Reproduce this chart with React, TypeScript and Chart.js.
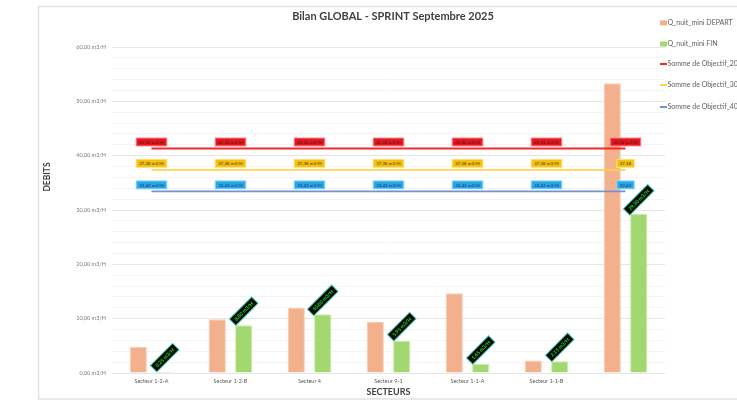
import React, { useEffect, useRef } from "react";
import { Chart, registerables } from "chart.js";

Chart.register(...registerables);

const categories = ["Secteur 1-2-A", "Secteur 1-2-B", "Secteur 4", "Secteur 9-1", "Secteur 1-1-A", "Secteur 1-1-B", ""];
const departValues = [4.85, 9.9, 12.0, 9.4, 14.7, 2.3, 53.35];
const finValues = [0.25, 8.8, 10.8, 5.95, 1.65, 2.15, 29.3];
const objectif20 = [41.32, 41.32, 41.32, 41.32, 41.32, 41.32, 41.32];
const objectif30 = [37.38, 37.38, 37.38, 37.38, 37.38, 37.38, 37.38];
const objectif40 = [33.43, 33.43, 33.43, 33.43, 33.43, 33.43, 33.43];
const seriesNames = ["Q_nuit_mini DEPART", "Q_nuit_mini FIN", "Somme de Objectif_20%", "Somme de Objectif_30%", "Somme de Objectif_40%"];
const titleText = "Bilan GLOBAL - SPRINT Septembre 2025";
const yTitle = "DEBITS";
const xTitle = "SECTEURS";

const ORANGE = "#f3b08c";
const GREEN = "#a3d870";
const RED = "#f42a2a";
const YELLOW = "#ffd04a";
const BLUE = "#7592d0";
const FONT = "Lato, 'Liberation Sans', sans-serif";

const fmt = (v: number) => v.toFixed(2).replace(".", ",") + " m3/H";

const decorPlugin = {
  id: "decor",
  beforeDraw(chart: any) {
    const ctx = chart.ctx;
    ctx.save();
    ctx.fillStyle = "#ffffff";
    ctx.fillRect(0, 0, chart.width, chart.height);
    ctx.strokeStyle = "#e2e2e2";
    ctx.lineWidth = 1.5;
    ctx.strokeRect(38.5, 6.5, chart.width + 10, chart.height - 7.5);
    ctx.restore();
  },
  afterDraw(chart: any) {
    const ctx = chart.ctx;
    const area = chart.chartArea;
    ctx.save();
    // title
    ctx.fillStyle = "#404040";
    ctx.font = `bold 11px ${FONT}`;
    ctx.textAlign = "center";
    ctx.textBaseline = "middle";
    ctx.fillText(titleText, 393, 16);
    // axis titles
    ctx.font = `bold 9px ${FONT}`;
    ctx.fillText(xTitle, (area.left + area.right) / 2, 392);
    ctx.save();
    ctx.translate(47, 177);
    ctx.rotate(-Math.PI / 2);
    ctx.font = `bold 8.5px ${FONT}`;
    ctx.fillText(yTitle, 0, 0);
    ctx.restore();
    // legend
    const colors = [ORANGE, GREEN, RED, YELLOW, BLUE];
    const ys = [23, 44, 64, 85, 107];
    ctx.font = `7px ${FONT}`;
    ctx.textAlign = "left";
    seriesNames.forEach((name, i) => {
      const y = ys[i];
      ctx.fillStyle = colors[i];
      if (i < 2) {
        ctx.fillRect(660, y - 2.5, 7, 5);
      } else {
        ctx.fillRect(660, y - 1, 7, 2);
      }
      ctx.fillStyle = "#606060";
      ctx.fillText(name, 667.5, y);
    });
    ctx.restore();
  },
  afterDatasetsDraw(chart: any) {
    const ctx = chart.ctx;
    ctx.save();
    ctx.textAlign = "center";
    ctx.textBaseline = "middle";
    // line labels
    const lineStyles = [
      { bg: "#e8141e", border: "#ff8a90", text: "#5a2020" },
      { bg: "#f4c20d", border: "#ffe27a", text: "#6a5a20" },
      { bg: "#29a8e6", border: "#8fd8ff", text: "#2a4a8a" },
    ];
    [2, 3, 4].forEach((di, k) => {
      const meta = chart.getDatasetMeta(di);
      const data = chart.data.datasets[di].data as number[];
      meta.data.forEach((pt: any, j: number) => {
        const last = j === data.length - 1;
        const txt = last && k > 0 ? data[j].toFixed(2).replace(".", ",") : fmt(data[j]);
        ctx.font = `bold 4.5px ${FONT}`;
        const w = ctx.measureText(txt).width + 5;
        const h = 7;
        const cx = pt.x;
        const cy = pt.y - 6.5;
        const st = lineStyles[k];
        ctx.fillStyle = st.border;
        ctx.fillRect(cx - w / 2 - 1, cy - h / 2 - 1, w + 2, h + 2);
        ctx.fillStyle = st.bg;
        ctx.fillRect(cx - w / 2, cy - h / 2, w, h);
        ctx.fillStyle = st.text;
        ctx.fillText(txt, cx, cy + 0.3);
      });
    });
    // FIN labels rotated
    const meta = chart.getDatasetMeta(1);
    const data = chart.data.datasets[1].data as number[];
    meta.data.forEach((bar: any, j: number) => {
      const txt = fmt(data[j]);
      ctx.save();
      ctx.translate(bar.x, bar.y - 14);
      ctx.rotate(-Math.PI / 4);
      ctx.font = `bold 5px ${FONT}`;
      const w = ctx.measureText(txt).width + 6;
      const h = 8;
      ctx.fillStyle = "#3fc8b0";
      ctx.fillRect(-w / 2 - 1, -h / 2 - 1, w + 2, h + 2);
      ctx.fillStyle = "#050505";
      ctx.fillRect(-w / 2, -h / 2, w, h);
      ctx.fillStyle = "#22e022";
      ctx.fillText(txt, 0, 0.3);
      ctx.restore();
    });
    ctx.restore();
  },
};

export default function App() {
  const ref = useRef<HTMLCanvasElement | null>(null);
  useEffect(() => {
    if (!ref.current) return;
    const chart = new Chart(ref.current, {
      type: "bar",
      data: {
        labels: categories,
        datasets: [
          {
            type: "bar",
            label: seriesNames[0],
            data: departValues,
            backgroundColor: ORANGE,
            borderColor: "#f8cdb5",
            borderWidth: 1,
            categoryPercentage: 0.67,
            barPercentage: 0.65,
            order: 2,
          },
          {
            type: "bar",
            label: seriesNames[1],
            data: finValues,
            backgroundColor: GREEN,
            borderColor: "#c6efa6",
            borderWidth: 1,
            categoryPercentage: 0.67,
            barPercentage: 0.65,
            order: 2,
          },
          {
            type: "line",
            label: seriesNames[2],
            data: objectif20,
            borderColor: RED,
            borderWidth: 1.8,
            pointRadius: 0,
            order: 1,
          },
          {
            type: "line",
            label: seriesNames[3],
            data: objectif30,
            borderColor: YELLOW,
            borderWidth: 1.8,
            pointRadius: 0,
            order: 1,
          },
          {
            type: "line",
            label: seriesNames[4],
            data: objectif40,
            borderColor: BLUE,
            borderWidth: 1.8,
            pointRadius: 0,
            order: 1,
          },
        ] as any,
      },
      options: {
        animation: false,
        responsive: false,
        devicePixelRatio: 1,
        layout: { padding: { left: 0, right: 72, top: 47, bottom: 0 } },
        plugins: {
          legend: { display: false },
          title: { display: false },
          tooltip: { enabled: false },
        },
        scales: {
          x: {
            grid: { display: false, drawTicks: false },
            border: { display: false },
            ticks: {
              color: "#595959",
              font: { size: 5.5, family: FONT },
              padding: 5,
              maxRotation: 0,
              autoSkip: false,
            },
            afterFit: (s: any) => {
              s.height = 27;
            },
          },
          y: {
            min: 0,
            max: 60,
            border: { display: false },
            grid: {
              drawTicks: false,
              color: (c: any) => (c.tick && c.tick.value % 10 === 0 ? "#e6e6e6" : "#f4f4f4"),
              lineWidth: 1,
            },
            ticks: {
              stepSize: 2,
              autoSkip: false,
              color: "#7a7a7a",
              font: { size: 5.5, family: FONT },
              padding: 6,
              callback: (v: any) => (Number(v) % 10 === 0 ? fmt(Number(v)) : ""),
            },
            afterFit: (s: any) => {
              s.width = 112;
            },
          },
        },
      },
      plugins: [decorPlugin],
    });
    return () => chart.destroy();
  }, []);
  return (
    <div style={{ position: "absolute", left: 0, top: 0, width: 737, height: 400 }}>
      <canvas ref={ref} width={737} height={400} />
    </div>
  );
}
